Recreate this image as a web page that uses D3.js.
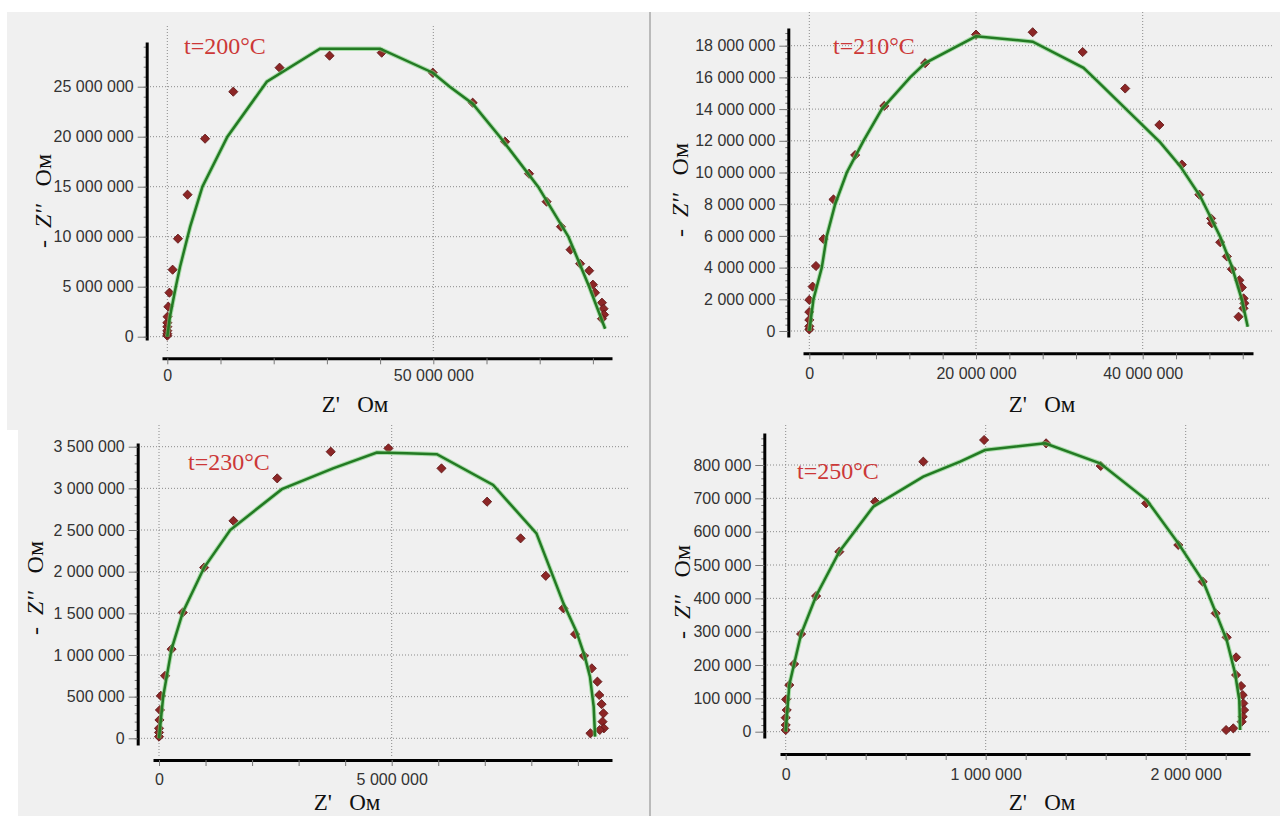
<!DOCTYPE html>
<html lang="ru">
<head>
  <meta charset="UTF-8">
  <title>Годографы импеданса</title>
  <script src="https://d3js.org/d3.v7.min.js"></script>
  <style>
    body { margin: 0; background: #fff; }
    svg { display: block; font-family: "Liberation Sans", Arial, sans-serif; }
    .tick text { font-size: 16px; fill: #333; }
    .tick line { stroke: #777; }
    .grid line { stroke: #8a8a8a; stroke-width: 1; stroke-dasharray: 1,2; }
    .title { font-family: "Liberation Serif", "Times New Roman", serif; fill: #111; white-space: pre; }
    .temp { font-family: "Liberation Serif", "Times New Roman", serif; font-size: 24px; fill: #cc3838; }
  </style>
</head>
<body>
<svg id="chart" width="1280" height="816"></svg>
<script>
  // ---- data (Z' and -Z'' in Ом) ----
  // t = 200 °C
  const re200 = [0, 0, 0, 0, 0, 0.05e6, 0.2e6, 0.4e6, 1.0e6, 2.0e6, 3.8e6, 7.1e6, 12.4e6, 21.1e6, 30.5e6, 40.3e6, 49.9e6, 57.4e6, 63.5e6, 68.0e6, 71.3e6, 74.0e6, 75.8e6, 77.6e6, 79.3e6, 80.0e6, 80.4e6, 81.7e6, 82.0e6, 82.1e6, 81.7e6];
  const im200 = [0.1e6, 0.3e6, 0.6e6, 1.0e6, 1.4e6, 2.0e6, 3.0e6, 4.4e6, 6.7e6, 9.8e6, 14.2e6, 19.8e6, 24.5e6, 26.9e6, 28.1e6, 28.4e6, 26.4e6, 23.4e6, 19.5e6, 16.3e6, 13.5e6, 11.0e6, 8.7e6, 7.3e6, 6.6e6, 5.2e6, 4.4e6, 3.4e6, 2.8e6, 2.2e6, 1.8e6];
  const fitRe200 = [0, 0.5e6, 1.6e6, 2.4e6, 4.3e6, 6.6e6, 11.3e6, 18.7e6, 28.7e6, 40.0e6, 49.9e6, 53.1e6, 57.4e6, 62.5e6, 69.7e6, 75.4e6, 79.3e6, 82.3e6];
  const fitIm200 = [0, 2.0e6, 5.0e6, 7.0e6, 11.0e6, 15.0e6, 20.0e6, 25.5e6, 28.8e6, 28.8e6, 26.4e6, 25.0e6, 23.3e6, 20.0e6, 15.0e6, 10.0e6, 5.0e6, 0.8e6];

  // t = 210 °C
  const re210 = [0, 0, 0, 0, 0, 0.4e6, 0.8e6, 1.7e6, 2.9e6, 5.5e6, 9.0e6, 13.9e6, 20.0e6, 26.8e6, 32.8e6, 37.9e6, 42.0e6, 44.7e6, 46.8e6, 48.2e6, 48.3e6, 49.3e6, 50.1e6, 50.7e6, 51.6e6, 51.9e6, 52.1e6, 52.2e6, 52.1e6, 51.5e6];
  const im210 = [0.1e6, 0.3e6, 0.7e6, 1.2e6, 1.96e6, 2.8e6, 4.1e6, 5.8e6, 8.3e6, 11.1e6, 14.2e6, 16.9e6, 18.7e6, 18.85e6, 17.6e6, 15.3e6, 13.0e6, 10.5e6, 8.6e6, 7.1e6, 6.8e6, 5.6e6, 4.7e6, 3.9e6, 3.2e6, 2.75e6, 2.06e6, 1.75e6, 1.43e6, 0.9e6];
  const fitRe210 = [0, 0.5e6, 1.5e6, 2.1e6, 3.1e6, 4.5e6, 6.5e6, 8.7e6, 12.1e6, 13.9e6, 19.3e6, 20.0e6, 26.8e6, 32.9e6, 34.5e6, 42.1e6, 44.5e6, 46.9e6, 49.3e6, 50.7e6, 51.9e6, 52.6e6];
  const fitIm210 = [0, 2.0e6, 4.0e6, 6.0e6, 8.0e6, 10.0e6, 12.0e6, 14.0e6, 16.0e6, 16.9e6, 18.4e6, 18.6e6, 18.25e6, 16.6e6, 15.8e6, 11.9e6, 10.4e6, 8.5e6, 5.95e6, 4.06e6, 1.96e6, 0.27e6];

  // t = 230 °C
  const re230 = [0, 0, 0, 0.01e6, 0.02e6, 0.04e6, 0.13e6, 0.27e6, 0.51e6, 0.97e6, 1.60e6, 2.54e6, 3.69e6, 4.93e6, 6.07e6, 7.05e6, 7.77e6, 8.31e6, 8.69e6, 8.94e6, 9.13e6, 9.30e6, 9.42e6, 9.46e6, 9.51e6, 9.55e6, 9.53e6, 9.56e6, 9.47e6, 9.27e6];
  const im230 = [0.02e6, 0.07e6, 0.12e6, 0.22e6, 0.34e6, 0.51e6, 0.75e6, 1.07e6, 1.51e6, 2.05e6, 2.61e6, 3.12e6, 3.44e6, 3.48e6, 3.24e6, 2.84e6, 2.40e6, 1.95e6, 1.56e6, 1.25e6, 0.99e6, 0.84e6, 0.68e6, 0.52e6, 0.41e6, 0.30e6, 0.20e6, 0.12e6, 0.10e6, 0.06e6];
  const fitRe230 = [0, 0.09e6, 0.27e6, 0.51e6, 0.97e6, 1.53e6, 2.64e6, 3.74e6, 4.68e6, 5.32e6, 5.97e6, 7.18e6, 8.11e6, 8.69e6, 8.97e6, 9.15e6, 9.26e6, 9.34e6, 9.37e6];
  const fitIm230 = [0, 0.5e6, 1.07e6, 1.51e6, 2.05e6, 2.5e6, 2.99e6, 3.24e6, 3.43e6, 3.42e6, 3.41e6, 3.04e6, 2.46e6, 1.62e6, 1.28e6, 0.98e6, 0.74e6, 0.38e6, 0.02e6];

  // t = 250 °C
  const re250 = [0, 0, 0, 5e3, 2e3, 18e3, 42e3, 77e3, 152e3, 268e3, 447e3, 688e3, 992e3, 1302e3, 1575e3, 1802e3, 1963e3, 2085e3, 2150e3, 2205e3, 2252e3, 2252e3, 2277e3, 2285e3, 2288e3, 2292e3, 2285e3, 2280e3, 2238e3, 2202e3];
  const im250 = [5e3, 20e3, 42e3, 65e3, 97e3, 140e3, 203e3, 293e3, 407e3, 540e3, 690e3, 810e3, 875e3, 865e3, 797e3, 685e3, 560e3, 450e3, 355e3, 283e3, 223e3, 170e3, 137e3, 110e3, 85e3, 65e3, 45e3, 30e3, 10e3, 5e3];
  const fitRe250 = [0, 18e3, 42e3, 77e3, 152e3, 268e3, 438e3, 688e3, 872e3, 997e3, 1297e3, 1572e3, 1805e3, 1963e3, 2088e3, 2152e3, 2205e3, 2247e3, 2268e3, 2272e3];
  const fitIm250 = [0, 140e3, 203e3, 293e3, 407e3, 540e3, 675e3, 765e3, 810e3, 845e3, 865e3, 805e3, 695e3, 565e3, 450e3, 355e3, 275e3, 175e3, 95e3, 5e3];

  // ---- ticks ----
  const xLabels200 = [0, 50e6];
  const xMinor200 = d3.range(0, 80e6 + 1, 10e6);
  const yLabels200 = d3.range(0, 25e6 + 1, 5e6);
  const xLabels210 = [0, 20e6, 40e6];
  const xMinor210 = d3.range(0, 52e6 + 1, 4e6);
  const yLabels210 = d3.range(0, 18e6 + 1, 2e6);
  const xLabels230 = [0, 5e6];
  const xMinor230 = d3.range(0, 9e6 + 1, 1e6);
  const yLabels230 = d3.range(0, 3.5e6 + 1, 0.5e6);
  const xLabels250 = [0, 1e6, 2e6];
  const xMinor250 = d3.range(0, 2.2e6 + 1, 0.2e6);
  const yLabels250 = d3.range(0, 800e3 + 1, 100e3);

  const tempLabels = ["t=200°C", "t=210°C", "t=230°C", "t=250°C"];

  // number format with space as thousands separator
  const fmt = d3.formatLocale({ decimal: ",", thousands: " ", grouping: [3], currency: ["", ""] }).format(",d");

  // ---- panel layout (pixel calibration of each sub-chart) ----
  const panels = [
    { re: re200, im: im200, fitRe: fitRe200, fitIm: fitIm200, xLab: xLabels200, xMin: xMinor200, yLab: yLabels200, temp: tempLabels[0],
      xCal: [0, 167.3, 50e6, 433.3], yCal: [0, 336.7, 25e6, 86.7],
      xAxis: { y: 358.3, from: 162, to: 612, pad: 5 }, yAxis: { x: 146.7, from: 340, to: 42 },
      gridX: [147, 630], gridY: [26, 353],
      tempPos: [184, 54], yTitle: [43, 201], xTitle: [355, 412] },
    { re: re210, im: im210, fitRe: fitRe210, fitIm: fitIm210, xLab: xLabels210, xMin: xMinor210, yLab: yLabels210, temp: tempLabels[1],
      xCal: [0, 809.3, 40e6, 1142.7], yCal: [0, 331, 18e6, 45.7],
      xAxis: { y: 353.3, from: 803, to: 1253, pad: 8 }, yAxis: { x: 788.3, from: 337, to: 28 },
      gridX: [788, 1272], gridY: [12, 350],
      tempPos: [833, 54], yTitle: [680, 190], xTitle: [1042, 412] },
    { re: re230, im: im230, fitRe: fitRe230, fitIm: fitIm230, xLab: xLabels230, xMin: xMinor230, yLab: yLabels230, temp: tempLabels[2],
      xCal: [0, 159, 5e6, 391.7], yCal: [0, 738.3, 3.5e6, 446.7],
      xAxis: { y: 760, from: 153, to: 612, pad: 8 }, yAxis: { x: 137.7, from: 745, to: 443 },
      gridX: [138, 630], gridY: [425, 757],
      tempPos: [188, 470], yTitle: [35, 588], xTitle: [347, 810] },
    { re: re250, im: im250, fitRe: fitRe250, fitIm: fitIm250, xLab: xLabels250, xMin: xMinor250, yLab: yLabels250, temp: tempLabels[3],
      xCal: [0, 785.7, 2e6, 1185.7], yCal: [0, 731.7, 800e3, 465],
      xAxis: { y: 754, from: 780, to: 1250, pad: 9 }, yAxis: { x: 764.3, from: 738, to: 433 },
      gridX: [764, 1270], gridY: [425, 751],
      tempPos: [797, 479], yTitle: [682, 592], xTitle: [1042, 810] }
  ];

  const svg = d3.select("#chart");

  // background: grey screenshot area, white margins, separator
  svg.append("rect").attr("width", 1280).attr("height", 816).attr("fill", "#fff");
  svg.append("rect").attr("x", 7).attr("y", 12).attr("width", 1273).attr("height", 804).attr("fill", "#f0f0f0");
  svg.append("rect").attr("x", 0).attr("y", 430).attr("width", 18).attr("height", 386).attr("fill", "#fff");
  svg.append("line").attr("x1", 650).attr("x2", 650).attr("y1", 12).attr("y2", 816)
    .attr("stroke", "#a8a8a8").attr("stroke-width", 1.5);

  const diamond = d3.symbol(d3.symbolSquare, 42);

  panels.forEach(p => {
    const g = svg.append("g");

    const x = d3.scaleLinear().domain([p.xCal[0], p.xCal[2]]).range([p.xCal[1], p.xCal[3]]);
    const y = d3.scaleLinear().domain([p.yCal[0], p.yCal[2]]).range([p.yCal[1], p.yCal[3]]);

    // scales stretched to the drawn axis line
    const xa = x.copy().domain([x.invert(p.xAxis.from), x.invert(p.xAxis.to)]).range([p.xAxis.from, p.xAxis.to]);
    const ya = y.copy().domain([y.invert(p.yAxis.from), y.invert(p.yAxis.to)]).range([p.yAxis.from, p.yAxis.to]);

    // dotted grid
    const grid = g.append("g").attr("class", "grid");
    grid.selectAll(".h").data(p.yLab).join("line")
      .attr("x1", p.gridX[0]).attr("x2", p.gridX[1])
      .attr("y1", d => y(d)).attr("y2", d => y(d));
    grid.selectAll(".v").data(p.xLab).join("line").attr("class", "v")
      .attr("x1", d => x(d)).attr("x2", d => x(d))
      .attr("y1", p.gridY[0]).attr("y2", p.gridY[1]);

    // x axis: minor ticks, labels only on main values
    const gx = g.append("g")
      .attr("transform", `translate(0,${p.xAxis.y})`)
      .call(d3.axisBottom(xa).tickValues(p.xMin).tickSize(6).tickSizeOuter(0).tickPadding(p.xAxis.pad)
        .tickFormat(d => p.xLab.some(v => Math.abs(v - d) < 1) ? fmt(d) : ""));
    gx.select(".domain").attr("stroke", "#000").attr("stroke-width", 3);

    // y axis minor ticks
    const step = p.yLab[1] - p.yLab[0];
    const yMinor = d3.range(0, ya.domain()[1], step / 5);
    g.append("g")
      .attr("transform", `translate(${p.yAxis.x},0)`)
      .call(d3.axisLeft(ya).tickValues(yMinor).tickSize(3).tickFormat("").tickSizeOuter(0))
      .call(s => s.select(".domain").remove())
      .selectAll("line").attr("stroke", "#999");

    // y axis
    const gy = g.append("g")
      .attr("transform", `translate(${p.yAxis.x},0)`)
      .call(d3.axisLeft(ya).tickValues(p.yLab).tickSize(9).tickPadding(4).tickSizeOuter(0).tickFormat(fmt));
    gy.select(".domain").attr("stroke", "#000").attr("stroke-width", 3);

    // measured points
    const pts = d3.zip(p.re, p.im);
    g.append("g").selectAll("path").data(pts).join("path")
      .attr("d", diamond)
      .attr("transform", d => `translate(${x(d[0])},${y(d[1])}) rotate(45)`)
      .attr("fill", "#8c2626")
      .attr("stroke", "#5e1717")
      .attr("stroke-width", 0.8);

    // fitted curve
    const line = d3.line().x(d => x(d[0])).y(d => y(d[1]));
    const fit = d3.zip(p.fitRe, p.fitIm);
    g.append("path").datum(fit).attr("d", line)
      .attr("fill", "none").attr("stroke", "#7fd27f").attr("stroke-width", 4.5).attr("stroke-opacity", 0.6);
    g.append("path").datum(fit).attr("d", line)
      .attr("fill", "none").attr("stroke", "#237a23").attr("stroke-width", 2.5);

    // temperature label
    g.append("text").attr("class", "temp")
      .attr("x", p.tempPos[0]).attr("y", p.tempPos[1])
      .text(p.temp);

    // axis titles
    const yt = g.append("text").attr("class", "title")
      .style("font-size", "24px")
      .attr("transform", `translate(${p.yTitle[0]},${p.yTitle[1]}) rotate(-90)`)
      .attr("text-anchor", "middle").attr("dy", "0.35em");
    yt.append("tspan").text("-  ");
    yt.append("tspan").attr("font-style", "italic").text("Z''");
    yt.append("tspan").text("   Ом");

    g.append("text").attr("class", "title")
      .style("font-size", "23px")
      .attr("x", p.xTitle[0]).attr("y", p.xTitle[1])
      .attr("text-anchor", "middle")
      .text("Z'   Ом");
  });
</script>
</body>
</html>
